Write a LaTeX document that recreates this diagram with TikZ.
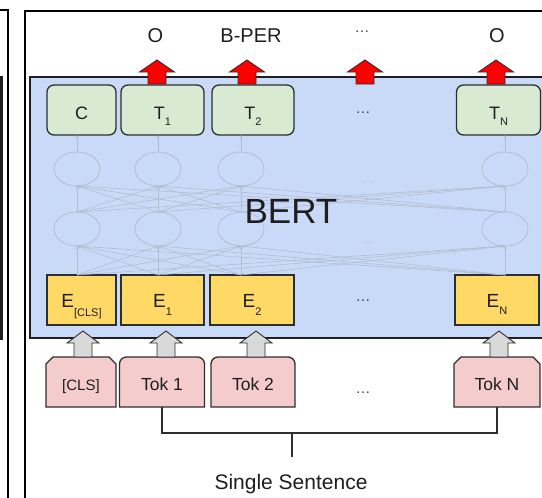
\documentclass[tikz,border=0pt]{standalone}
\usepackage{fontspec}
\setmainfont{Liberation Sans}
\usetikzlibrary{shapes.geometric,arrows.meta,calc}

\definecolor{bertblue}{HTML}{C9DAF8}
\definecolor{outgreen}{HTML}{D9EAD3}
\definecolor{embyellow}{HTML}{FFD966}
\definecolor{tokpink}{HTML}{F4CCCC}
\definecolor{liftgray}{HTML}{D9D9D9}
\definecolor{netgray}{HTML}{B2BDD1}
\definecolor{edgedark}{HTML}{2E2E2E}
\definecolor{ink}{HTML}{1E1E1E}
\definecolor{dotblue}{HTML}{34406A}

% lowered, smaller index after a letter
\newcommand{\lowsub}[2][5.5pt]{\raisebox{-#1}{\fontsize{11}{11}\selectfont #2}}
\newcommand{\fs}[1]{\fontsize{#1}{#1}\selectfont}

\pgfdeclarelayer{back}
\pgfsetlayers{back,main}

\tikzset{
  every node/.style={inner sep=0pt,outer sep=0pt,text=ink},
  panelline/.style={draw=black,line width=1.8pt},
  bertframe/.style={draw=black!88,line width=2.8pt},
  outbox/.style={draw=edgedark,line width=1.3pt,fill=outgreen,rounded corners=7pt,
    minimum height=50pt,text height=19pt,text depth=0pt,font=\fs{18}},
  embbox/.style={draw=edgedark,line width=1.3pt,fill=embyellow,
    minimum height=50pt,text height=14pt,text depth=0pt,font=\fs{19}},
  tokbox/.style={minimum height=50pt,text height=17pt,text depth=0pt,font=\fs{17.5}},
  tokedge/.style={draw=edgedark,line width=1.3pt,fill=tokpink},
  neuron/.style={ellipse,draw=netgray,line width=0.8pt,minimum width=46pt,minimum height=34pt},
  netedge/.style={draw=netgray,line width=0.6pt,-{Stealth[length=3.5pt,width=3pt]}},
  toplabel/.style={anchor=base,font=\fs{20}},
  ellipsisnode/.style={anchor=base,font=\fs{15},text=dotblue},
  faintdots/.style={anchor=base,font=\fs{13},text=netgray},
  bracketline/.style={draw=edgedark,line width=1.4pt},
  redlift/.pic={\draw[fill=red,draw=edgedark,line width=0.9pt,line join=miter]
     (-9,0) -- (-9,-12) -- (-17.5,-12) -- (0,-24) -- (17.5,-12) -- (9,-12) -- (9,0) -- cycle;},
  graylift/.pic={\draw[fill=liftgray,draw=edgedark,line width=0.9pt,line join=miter]
     (-9,0) -- (-9,-14) -- (-16,-14) -- (0,-26) -- (16,-14) -- (9,-14) -- (9,0) -- cycle;}
}

\begin{document}
\begin{tikzpicture}[x=1pt,y=-1pt]
\useasboundingbox (0,0) rectangle (542,498);

% panel frames
\draw[panelline] (-5,10) -- (8,10) -- (8,505);
\draw[panelline] (25,505) -- (25,11) -- (550,11);
\draw[bertframe] (-10,77) -- (1.5,77) -- (1.5,339) -- (-10,339);

% encoder block
\node[bertframe,fill=bertblue,anchor=north west,minimum width=540pt,minimum height=261pt] (bert) at (30,77) {};

% hidden units
\foreach \k/\x in {1/77,2/158,3/241,4/505}{
  \node[neuron] (nu\k) at (\x,169) {};
  \node[neuron] (nl\k) at (\x,229) {};
}

% output row
\node[outbox,minimum width=69pt] (c)  at (81.5,110) {C};
\node[outbox,minimum width=83pt] (t1) at (162.5,110) {T\lowsub{1}};
\node[outbox,minimum width=82pt] (t2) at (253,110) {T\lowsub{2}};
\node[outbox,minimum width=84pt] (tn) at (498.5,110) {T\lowsub{N}};

% embedding row
\node[embbox,minimum width=69pt] (ecls) at (81.5,300) {E\lowsub[9pt]{[CLS]}};
\node[embbox,minimum width=83pt] (e1)   at (162.5,300) {E\lowsub[8pt]{1}};
\node[embbox,minimum width=84pt] (e2)   at (252,300) {E\lowsub[8pt]{2}};
\node[embbox,minimum width=84pt] (en)   at (497,300) {E\lowsub[7pt]{N}};

% connections between layers
\foreach \i in {1,...,4}{
  \draw[netedge] (nu\i.north) -- (nu\i.north |- t1.south);
  \foreach \j in {1,...,4}{
    \draw[netedge] (nl\i.north) -- (nu\j.south);
    \draw[netedge] (nl\i.south |- e1.north) -- (nl\j.south);
  }
}
\node[faintdots] (hdots1) at (368,183) {\ldots};
\node[faintdots] (hdots2) at (368,243) {\ldots};

\node[anchor=base,font=\fs{35}] (berttitle) at (291,223) {BERT};

% input tokens
\node[tokbox,minimum width=70pt,font=\fs{15}] (cls) at (81,382) {[CLS]};
\node[tokbox,minimum width=85pt] (tok1) at (162,382) {Tok 1};
\node[tokbox,minimum width=84pt] (tok2) at (253,382) {Tok 2};
\node[tokbox,minimum width=86pt] (tokn) at (497,382) {Tok N};

\begin{pgfonlayer}{back}
  \foreach \t in {cls,tokn}{
    \draw[tokedge] (\t.south west) -- ([yshift=-7pt]\t.north west) -- ([xshift=7pt]\t.north west)
      -- ([xshift=-7pt]\t.north east) -- ([yshift=-7pt]\t.north east) -- (\t.south east) -- cycle;
  }
  \foreach \t in {tok1,tok2}{
    \draw[tokedge] (\t.south west) -- ([yshift=-7pt]\t.north west)
      arc[start angle=180,end angle=90,radius=7pt] -- ([xshift=-7pt]\t.north east)
      arc[start angle=90,end angle=0,radius=7pt] -- (\t.south east) -- cycle;
  }
\end{pgfonlayer}

% ellipses in each row
\node[ellipsisnode] (lab3)   at (362,32.5) {\ldots};
\node[ellipsisnode] (tdots)  at (363,113) {\ldots};
\node[ellipsisnode] (edots)  at (363,301.5) {\ldots};
\node[ellipsisnode] (tkdots) at (363,393) {\ldots};

% predicted labels
\node[toplabel] (lab1) at (155.5,42) {O};
\node[toplabel] (lab2) at (251,42) {B-PER};
\node[toplabel] (lab4) at (497,42) {O};

% lifting arrows
\pic at (157,84) {redlift};
\pic at (247,84) {redlift};
\pic at (365,84) {redlift};
\pic at (496,84) {redlift};
\pic at (83,357) {graylift};
\pic at (166,357) {graylift};
\pic at (256,357) {graylift};
\pic at (499,357) {graylift};

% sentence bracket
\coordinate (join) at (292,433);
\coordinate (tail) at (292,457);
\draw[bracketline] (tok1.south) |- (join) -| (tokn.south);
\draw[bracketline] (join) -- (tail);
\node[anchor=base,font=\fs{21}] (sentence) at (291,489) {Single Sentence};
\end{tikzpicture}
\end{document}
